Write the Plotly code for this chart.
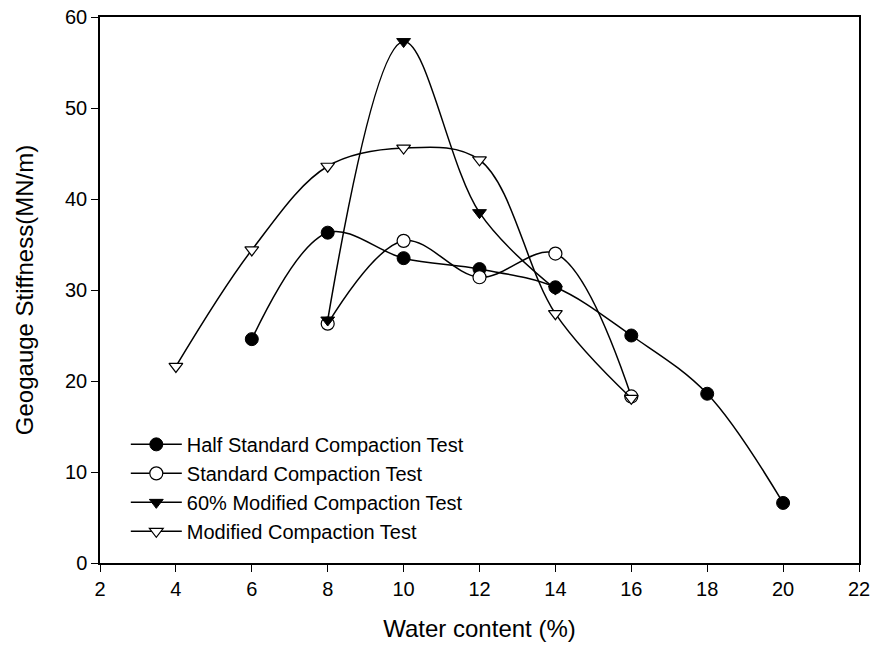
import plotly.graph_objects as go

half_x = [6, 8, 10, 12, 14, 16, 18, 20]
half_y = [24.6, 36.3, 33.5, 32.3, 30.3, 25.0, 18.6, 6.6]

std_x = [8, 10, 12, 14, 16]
std_y = [26.3, 35.4, 31.4, 34.0, 18.3]

mod60_x = [8, 10, 12, 14]
mod60_y = [26.7, 57.3, 38.5, 30.1]

mod_x = [4, 6, 8, 10, 12, 14, 16]
mod_y = [21.6, 34.4, 43.6, 45.6, 44.3, 27.4, 18.1]

x_ticks = [2, 4, 6, 8, 10, 12, 14, 16, 18, 20, 22]
y_ticks = [0, 10, 20, 30, 40, 50, 60]

FONT = "Liberation Sans, Arial, sans-serif"
line = dict(color="black", width=1.5, shape="spline", smoothing=1)

fig = go.Figure()
fig.add_trace(go.Scatter(x=half_x, y=half_y, mode="lines+markers", name="Half Standard Compaction Test",
                         line=line, marker=dict(symbol="circle", size=13, color="black",
                                                line=dict(color="black", width=1))))
fig.add_trace(go.Scatter(x=std_x, y=std_y, mode="lines+markers", name="Standard Compaction Test",
                         line=line, marker=dict(symbol="circle", size=13, color="white",
                                                line=dict(color="black", width=1.2))))
fig.add_trace(go.Scatter(x=mod60_x, y=mod60_y, mode="lines+markers", name="60% Modified Compaction Test",
                         line=line, marker=dict(symbol="triangle-down", size=12, color="black",
                                                line=dict(color="black", width=1))))
fig.add_trace(go.Scatter(x=mod_x, y=mod_y, mode="lines+markers", name="Modified Compaction Test",
                         line=line, marker=dict(symbol="triangle-down", size=12, color="white",
                                                line=dict(color="black", width=1.2))))

axis_common = dict(showline=True, linecolor="black", linewidth=1.5, mirror=True,
                   ticks="outside", ticklen=7, tickwidth=1, tickcolor="black",
                   showgrid=False, zeroline=False, automargin=False,
                   tickfont=dict(family=FONT, size=20, color="black"))

fig.update_layout(
    width=875, height=655,
    margin=dict(l=100, r=16, t=17, b=92),
    paper_bgcolor="white", plot_bgcolor="white",
    showlegend=True,
    legend=dict(x=0.034, y=0.253, xanchor="left", yanchor="top",
                bgcolor="rgba(0,0,0,0)", font=dict(family=FONT, size=20, color="black"),
                tracegroupgap=0, itemwidth=51),
    xaxis=dict(range=[2, 22], tickvals=x_ticks,
               title=dict(text="Water content (%)", font=dict(family=FONT, size=24, color="black"), standoff=21),
               **axis_common),
    yaxis=dict(range=[0, 60], tickvals=y_ticks,
               title=dict(text="Geogauge Stiffness(MN/m)", font=dict(family=FONT, size=24, color="black"), standoff=25),
               **axis_common),
)

fig.write_html("out.html")
